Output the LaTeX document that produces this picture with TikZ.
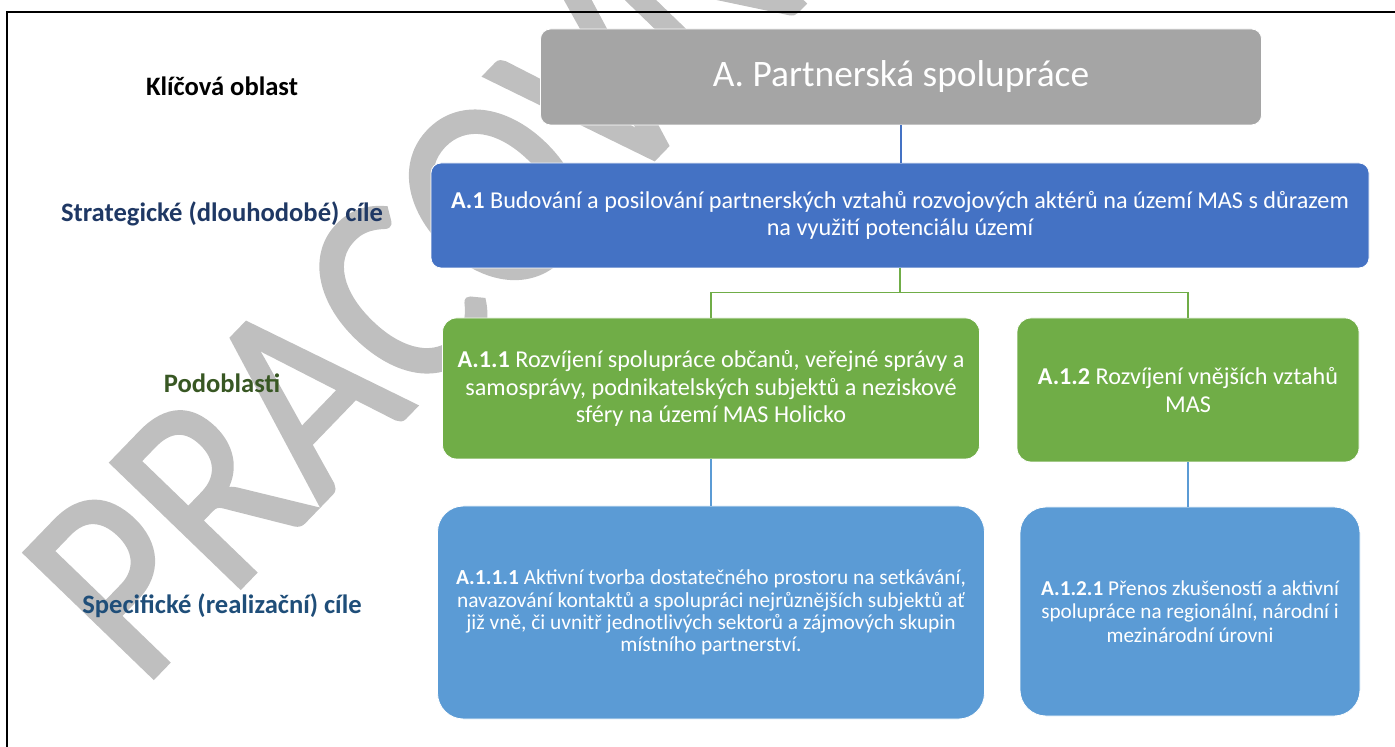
\documentclass[tikz,border=0pt]{standalone}
\usepackage{fontspec}
\setmainfont{Carlito}
\newfontface\wmface[FakeBold=1.2]{Carlito}
\usetikzlibrary{positioning}
\definecolor{keygrey}{HTML}{A5A5A5}
\definecolor{goalblue}{HTML}{4472C4}
\definecolor{subgreen}{HTML}{70AD47}
\definecolor{specblue}{HTML}{5B9BD5}
\definecolor{wmgrey}{HTML}{BFBFBF}
\definecolor{lvlnavy}{HTML}{1F3864}
\definecolor{lvlgreen}{HTML}{385723}
\definecolor{lvlblue}{HTML}{1F4E79}
\tikzset{
  every picture/.style={line width=0.8pt},
  sbox/.style={rectangle, rounded corners=5pt, draw=white, line width=0.4pt,
               text=white, align=center, inner sep=0pt},
  skey/.style={sbox, fill=keygrey, font=\fontsize{18.7}{22}\selectfont},
  sgoal/.style={sbox, fill=goalblue, font=\fontsize{12.1}{13.4}\selectfont},
  ssub/.style={sbox, fill=subgreen, rounded corners=7pt,
               font=\fontsize{12.1}{13.8}\selectfont},
  sspec/.style={sbox, fill=specblue, rounded corners=13pt,
                font=\fontsize{10.7}{11.2}\selectfont},
  slevel/.style={font=\bfseries\fontsize{13.3}{16}\selectfont},
  swmark/.style={text=wmgrey, inner sep=0pt, transform shape,
                 font=\wmface\fontsize{121}{121}\selectfont},
}

\begin{document}
\begin{tikzpicture}[x=0.5pt,y=-0.5pt]
\useasboundingbox (0,0) rectangle (1395,747);
\clip (0,0) rectangle (1395,747);
% watermark behind everything
\node[swmark, rotate=46, yscale=1.16, anchor=base west] (wm) at (141,691) {PRACOVNÍ};
\draw[line width=1.2pt] (7,12) rectangle (1430,780);
% level labels
\node[slevel] (lkey) at (222,86) {Klíčová oblast};
\node[slevel, text=lvlnavy] (lgoal) at (222,214) {Strategické (dlouhodobé) cíle};
\node[slevel, text=lvlgreen] (lsub) at (222,383) {Podoblasti};
\node[slevel, text=lvlblue] (lspec) at (222,606) {Specifické (realizační) cíle};
% boxes
\node[skey, minimum width=360.5pt, minimum height=48pt] (key) at (901,77)
  {A. Partnerská spolupráce};
\node[sgoal, minimum width=469pt, minimum height=52.5pt] (goal) at (900,215.5)
  {\textbf{A.1} Budování a posilování partnerských vztahů rozvojových aktérů na území MAS s důrazem\\
   na využití potenciálu území};
\node[ssub, minimum width=268.5pt, minimum height=70.5pt] (sub1) at (711,388.5)
  {\textbf{A.1.1} Rozvíjení spolupráce občanů, veřejné správy a\\
   samosprávy, podnikatelských subjektů a neziskové\\
   sféry na území MAS Holicko};
\node[ssub, minimum width=171pt, minimum height=72pt] (sub2) at (1188,390)
  {\textbf{A.1.2} Rozvíjení vnějších vztahů\\MAS};
\node[sspec, minimum width=273.5pt, minimum height=106.5pt] (spec1) at (711,612.5)
  {\textbf{A.1.1.1} Aktivní tvorba dostatečného prostoru na setkávání,\\
   navazování kontaktů a spolupráci nejrůznějších subjektů ať\\
   již vně, či uvnitř jednotlivých sektorů a zájmových skupin\\
   místního partnerství.};
\node[sspec, minimum width=170pt, minimum height=104.5pt,
      font=\fontsize{10.6}{11.8}\selectfont] (spec2) at (1190,611.5)
  {\textbf{A.1.2.1} Přenos zkušeností a aktivní\\
   spolupráce na regionální, národní i\\
   mezinárodní úrovni};
% connectors
\coordinate (fork) at ([yshift=-12pt]goal.south);
\draw[goalblue] (key.south) -- (key.south |- goal.north);
\draw[subgreen] (goal.south) -- (fork) -| (sub1.north);
\draw[subgreen] (fork) -| (sub2.north);
\draw[specblue] (sub1.south) -- (spec1.north);
\draw[specblue] (sub2.south) -- (sub2.south |- spec2.north);
\end{tikzpicture}
\end{document}
